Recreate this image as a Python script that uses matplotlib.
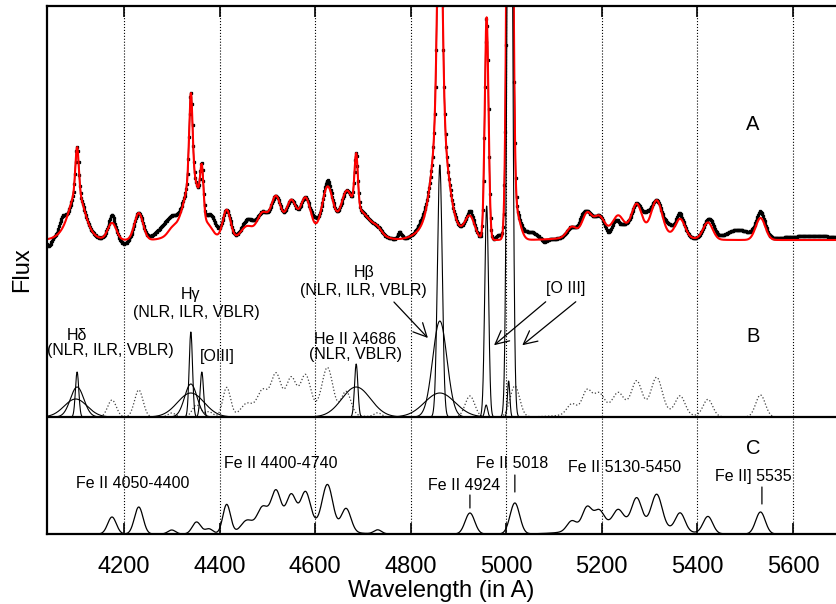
import numpy as np
import matplotlib.pyplot as plt

plt.rcParams['font.family'] = ['Liberation Sans', 'DejaVu Sans']

# x range of the plot (wavelength, A)
wave_min, wave_max = 4039, 5690
grid_ticks = [4200, 4400, 4600, 4800, 5000, 5200, 5400, 5600]

# emission line components (panel B): centre (A), sigma (A), peak height
line_center = [4102, 4102, 4099,          # H delta  NLR, ILR, VBLR
               4340, 4340, 4340,          # H gamma  NLR, ILR, VBLR
               4363,                      # [O III] 4363
               4686, 4686,                # He II 4686 NLR, VBLR
               4861, 4861, 4861,          # H beta  NLR, ILR, VBLR
               4959, 4958,                # [O III] 4959
               5007.5, 5005]              # [O III] 5007
line_sigma = [3.5, 14, 24,
              3.5, 13, 28,
              3.5,
              3.5, 30,
              5, 15, 32,
              4, 3,
              4.8, 2.5]
line_peak = [45, 30, 18,
             85, 33, 24,
             45,
             53, 30,
             252, 96, 24,
             211, 12,
             900, 36]

# Fe II template (panel C): centre (A), sigma (A), peak height
fe_center = [4175, 4231, 4300, 4352, 4378,
             4415, 4457, 4490, 4518, 4550, 4580, 4560, 4626, 4665, 4731,
             4924, 5018,
             5250, 5137, 5169, 5194, 5234, 5273, 5315, 5364, 5422,
             5532]
fe_sigma = [9, 9, 8, 9, 8,
            8, 12, 11, 10, 10, 10, 60, 11, 10, 8,
            10, 10,
            70, 10, 10, 10, 10, 10, 11, 10, 10,
            10]
fe_peak = [17, 27, 4, 12, 5,
           29, 11, 21, 34, 28, 31, 12, 43, 23, 4,
           21, 31,
           12, 10, 21, 15, 13, 25, 32, 18, 17,
           22]

res_center = [4043, 4071, 4175, 4200, 4290, 4385, 4462, 4600, 4626, 4777,
              4825, 4925, 4985, 5050, 5080, 5158, 5215, 5238, 5294, 5340,
              5362, 5430, 5485, 5532, 5640]
res_sigma = [5, 6, 5, 8, 20, 10, 12, 6, 6, 4,
             10, 5, 6, 14, 5, 6, 6, 6, 8, 8,
             5, 8, 25, 6, 60]
res_peak = [-7, 12, 8, -4, 13, 13, 7, 6, 6, 7,
            6, 5, 5, 8, -3, 7, -6, -7, 11, 8,
            6, 5, 10, 4, 4]

# vertical layout of the three panels (same flux scale)
base_C = 0
base_B = 117
cont_A = 294

wave = np.arange(wave_min, wave_max + 0.5, 0.5)


def gauss(c, s, a):
    return a * np.exp(-0.5 * ((wave - c) / s) ** 2)


lines = [gauss(c, s, a) for c, s, a in zip(line_center, line_sigma, line_peak)]
feii = sum(gauss(c, s, a) for c, s, a in zip(fe_center, fe_sigma, fe_peak))
resid = sum(gauss(c, s, a) for c, s, a in zip(res_center, res_sigma, res_peak))
model = cont_A + sum(lines) + feii
observed = model + resid

fig = plt.figure(figsize=(8.36, 6.04), dpi=100)
ax = fig.add_axes([47 / 836, 1 - 534 / 604, 789 / 836, 528 / 604])

# panel A
ax.plot(wave, observed, color='black', lw=0.9, marker='s', ms=1.4, markevery=3)
ax.plot(wave, model, color='red', lw=1.5)

# panel B
ax.plot(wave, base_B + feii, color='0.25', lw=0.9, ls=':')
for comp in lines:
    ax.plot(wave, base_B + comp, color='black', lw=0.8)
ax.axhline(base_B, color='black', lw=1.6)

# panel C
ax.plot(wave, base_C + feii, color='black', lw=0.9)

ax.set_xlim(wave_min, wave_max)
ax.set_ylim(0, 528)
ax.set_xticks(grid_ticks)
ax.set_yticks([])
ax.grid(axis='x', color='black', ls=':', lw=0.8)
ax.tick_params(axis='x', direction='in', top=True, length=8, width=1.2,
               labelsize=17, pad=15.5)
for side in ['left', 'top', 'bottom']:
    ax.spines[side].set_linewidth(1.6)
ax.spines['right'].set_visible(False)

ax.set_xlabel('Wavelength (in A)', fontsize=17, labelpad=2)
ax.set_ylabel('Flux', fontsize=17, labelpad=10)

# panel letters
for txt, y in [('A', 409), ('B', 198), ('C', 86)]:
    ax.text(5516, y, txt, fontsize=14.5, ha='center', va='center')

fs = 11.5
ax.text(4102, 199, 'H\u03b4', fontsize=fs, ha='center', va='center')
ax.text(4171, 183, '(NLR, ILR, VBLR)', fontsize=fs, ha='center', va='center')
ax.text(4340, 239, 'H\u03b3', fontsize=fs, ha='center', va='center')
ax.text(4351, 222, '(NLR, ILR, VBLR)', fontsize=fs, ha='center', va='center')
ax.text(4395, 177, '[OIII]', fontsize=fs, ha='center', va='center')
ax.text(4683, 194, 'He II \u03bb4686', fontsize=fs, ha='center', va='center')
ax.text(4685, 179, '(NLR, VBLR)', fontsize=fs, ha='center', va='center')
ax.text(4702, 262, 'H\u03b2', fontsize=fs, ha='center', va='center')
ax.text(4700, 244, '(NLR, ILR, VBLR)', fontsize=fs, ha='center', va='center')
ax.text(5125, 246, '[O III]', fontsize=fs, ha='center', va='center')

arrow = dict(arrowstyle='->', color='black', lw=0.9, mutation_scale=24)
ax.annotate('', xy=(4840, 194), xytext=(4761, 234), arrowprops=arrow)
ax.annotate('', xy=(4970, 187), xytext=(5087, 234), arrowprops=arrow)
ax.annotate('', xy=(5029, 187), xytext=(5150, 234), arrowprops=arrow)

# Fe II labels in panel C
ax.text(4219, 51, 'Fe II 4050-4400', fontsize=fs, ha='center', va='center')
ax.text(4529, 70, 'Fe II 4400-4740', fontsize=fs, ha='center', va='center')
ax.text(5248, 66, 'Fe II 5130-5450', fontsize=fs, ha='center', va='center')
stick = dict(arrowstyle='-', color='black', lw=0.9, shrinkA=0, shrinkB=0)
ax.text(4912, 49, 'Fe II 4924', fontsize=fs, ha='center', va='center')
ax.annotate('', xy=(4924, 26), xytext=(4924, 39), arrowprops=stick)
ax.text(5012, 70, 'Fe II 5018', fontsize=fs, ha='center', va='center')
ax.annotate('', xy=(5018, 42), xytext=(5018, 59), arrowprops=stick)
ax.text(5516, 57, 'Fe II] 5535', fontsize=fs, ha='center', va='center')
ax.annotate('', xy=(5535, 30), xytext=(5535, 47), arrowprops=stick)

fig.savefig('out.png', dpi=100)
